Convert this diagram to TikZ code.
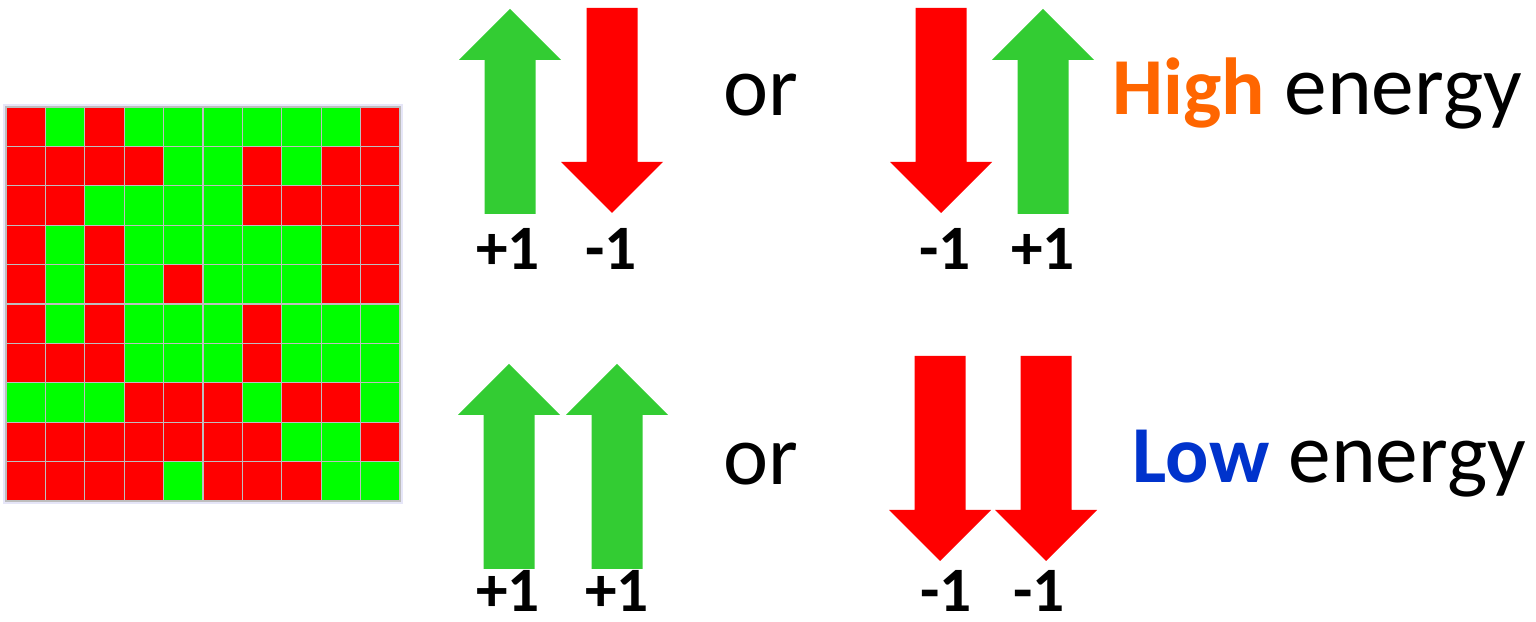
\documentclass[tikz,border=0pt]{standalone}
\usepackage{fontspec}
\setmainfont{Carlito}

\definecolor{spinred}{RGB}{255,0,0}
\definecolor{spingreen}{RGB}{51,204,51}
\definecolor{cellgreen}{RGB}{0,255,0}
\definecolor{hiorange}{RGB}{255,102,0}
\definecolor{loblue}{RGB}{0,51,204}
\definecolor{gridline}{RGB}{190,190,190}
\definecolor{gridframe}{RGB}{230,230,248}

\tikzset{
  spin/.pic={\fill (0,0) -- (0.51,-0.51) -- (0.255,-0.51) -- (0.255,-2.05)
      -- (-0.255,-2.05) -- (-0.255,-0.51) -- (-0.51,-0.51) -- cycle;},
  cellR/.style={fill=spinred},
  cellG/.style={fill=cellgreen},
  value/.style={font=\fontsize{18}{20}\selectfont\bfseries, inner sep=0pt, anchor=base},
  big/.style={font=\fontsize{24.3}{28}\selectfont, inner sep=0pt, anchor=base},
}
\newcommand{\keyword}[2]{{\fontsize{23}{27}\selectfont\bfseries\color{#1}#2}}

\begin{document}
\begin{tikzpicture}
    \useasboundingbox (0,0) rectangle (15.36,-6.22);

    % Spin lattice
    \draw[gridframe, line width=0.8pt] (0.04,-1.05) rectangle (4.02,-5.03);
    \foreach \cells [count=\r] in {{R,G,R,G,G,G,G,G,G,R},{R,R,R,R,G,G,R,G,R,R},
        {R,R,G,G,G,G,R,R,R,R},{R,G,R,G,G,G,G,G,R,R},{R,G,R,G,R,G,G,G,R,R},
        {R,G,R,G,G,G,R,G,G,G},{R,R,R,G,G,G,R,G,G,G},{G,G,G,R,R,R,G,R,R,G},
        {R,R,R,R,R,R,R,G,G,R},{R,R,R,R,G,R,R,R,G,G}}
      \foreach \c [count=\k] in \cells
        \path[cell\c, draw=gridline, line width=0.3pt]
          ({0.06+(\k-1)*0.394},{-1.07-(\r-1)*0.394}) rectangle ++(0.394,-0.394);

    % Opposite neighbours
    \pic[spingreen] at (5.10,-0.09) {spin};
    \pic[spinred, rotate=180] at (6.12,-2.13) {spin};
    \node[value] (pA) at (5.08,-2.70) {+1};
    \node[value] (mA) at (6.11,-2.70) {-1};

    \node[big] (orTop) at (7.61,-1.16) {or};

    \pic[spinred, rotate=180] at (9.41,-2.13) {spin};
    \pic[spingreen] at (10.43,-0.09) {spin};
    \node[value] (mB) at (9.45,-2.70) {-1};
    \node[value] (pB) at (10.43,-2.70) {+1};

    \node[big, anchor=base west] (high) at (11.12,-1.15)
      {\keyword{hiorange}{High} energy};

    % Aligned neighbours
    \pic[spingreen] at (5.09,-3.64) {spin};
    \pic[spingreen] at (6.17,-3.64) {spin};
    \node[value] (pC) at (5.08,-6.12) {+1};
    \node[value] (pD) at (6.17,-6.12) {+1};

    \node[big] (orBot) at (7.61,-4.85) {or};

    \pic[spinred, rotate=180] at (9.40,-5.61) {spin};
    \pic[spinred, rotate=180] at (10.46,-5.61) {spin};
    \node[value] (mC) at (9.46,-6.12) {-1};
    \node[value] (mD) at (10.39,-6.12) {-1};

    \node[big, anchor=base west] (low) at (11.32,-4.83)
      {\keyword{loblue}{Low} energy};
\end{tikzpicture}
\end{document}
